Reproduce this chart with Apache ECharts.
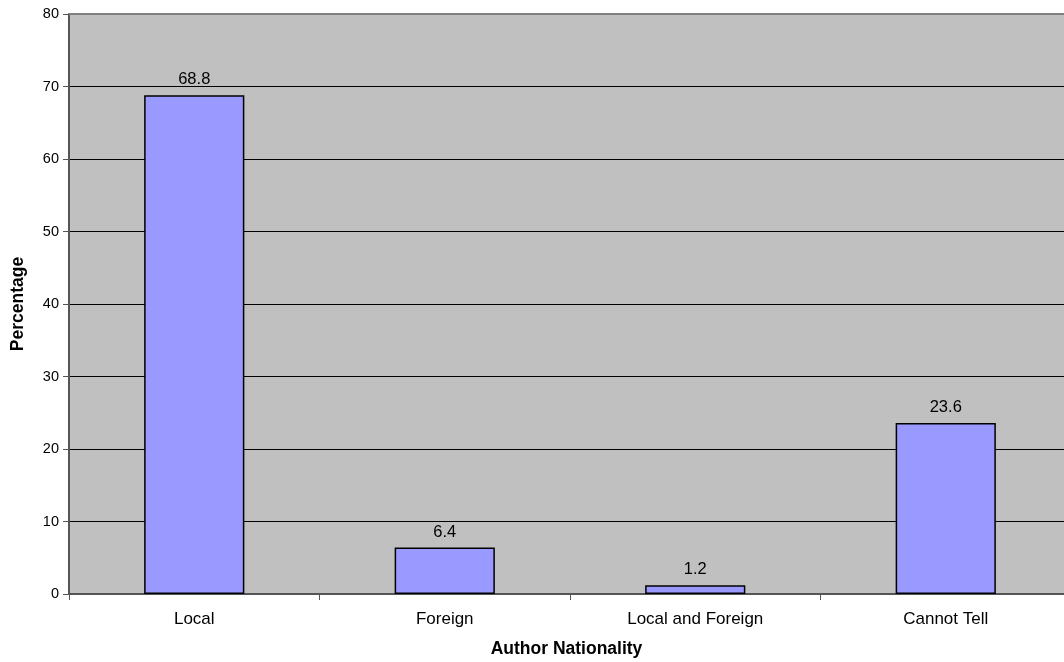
<!DOCTYPE html>
<html><head><meta charset="utf-8">
<script src="https://cdn.jsdelivr.net/npm/echarts@6/dist/echarts.min.js"></script>
<style>html,body{margin:0;padding:0;background:#fff}#c{width:1064px;height:662px}</style>
</head><body><div id="c"></div>
<script>
var categories = ["Local", "Foreign", "Local and Foreign", "Cannot Tell"];
var values = [68.8, 6.4, 1.2, 23.6];
var yTicks = [0, 10, 20, 30, 40, 50, 60, 70, 80];

var chart = echarts.init(document.getElementById('c'));
var font = '"Liberation Sans", Arial, sans-serif';
chart.setOption({
  animation: false,
  grid: { left: 69, top: 14, right: -7, bottom: 68, backgroundColor: '#C0C0C0', show: true, borderWidth: 0,
    containLabel: false, outerBoundsMode: 'none' },
  xAxis: {
    type: 'category', data: categories,
    name: 'Author Nationality', nameLocation: 'middle', nameGap: 46,
    nameTextStyle: { fontFamily: font, fontSize: 17.5, fontWeight: 'bold', color: '#000', padding: [0, 0, 0, -7] },
    axisLine: { lineStyle: { color: '#555', width: 2 } },
    axisTick: { show: true, length: 6, lineStyle: { color: '#555', width: 1 } },
    axisLabel: { fontFamily: font, fontSize: 17, color: '#000', margin: 17 },
    splitLine: { show: false }, splitArea: { show: false }
  },
  yAxis: {
    type: 'value', min: 0, max: 80, interval: 10,
    name: 'Percentage', nameLocation: 'middle', nameGap: 42, nameRotate: 90,
    nameTextStyle: { fontFamily: font, fontSize: 17.5, fontWeight: 'bold', color: '#000' },
    axisLine: { show: true, lineStyle: { color: '#555', width: 2 } },
    axisTick: { show: true, length: 6, inside: false, lineStyle: { color: '#555' } },
    axisLabel: { fontFamily: font, fontSize: 14.5, color: '#000', margin: 10,
      formatter: function (v) { return yTicks.indexOf(v) >= 0 ? String(v) : ''; } },
    splitLine: { show: true, lineStyle: { color: '#000', width: 1 } }
  },
  series: [{
    type: 'bar', data: values, barWidth: '40%',
    itemStyle: { color: '#9999FF', borderColor: '#000', borderWidth: 1.5 },
    label: { show: true, position: 'top', distance: 7, fontFamily: font, fontSize: 16.5, color: '#000',
      formatter: function (p) { return p.value.toFixed(1); } }
  }],
  graphic: [{ type: 'line', shape: { x1: 69, y1: 14, x2: 1064, y2: 14 }, style: { stroke: '#808080', lineWidth: 2 }, z: 10 }]
});
</script></body></html>
